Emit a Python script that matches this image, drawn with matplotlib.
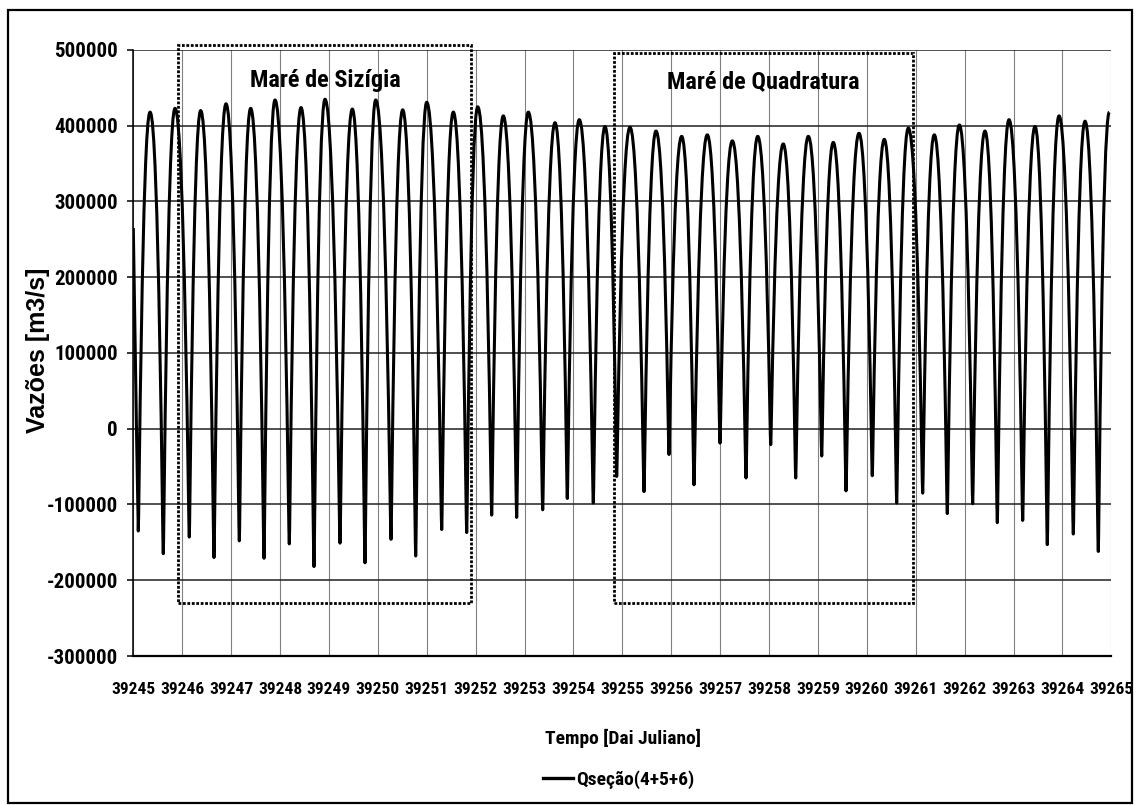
import numpy as np
import matplotlib.pyplot as plt
from matplotlib.path import Path
from matplotlib.patches import PathPatch, Rectangle
from matplotlib.lines import Line2D

plt.rcParams['font.family'] = ['Roboto Condensed', 'DejaVu Sans']
plt.rcParams['font.stretch'] = 'condensed'
plt.rcParams['font.weight'] = 'bold'

# first sample of the record (curve enters on a falling limb)
start_day = 39245.0
start_q = 265000

# low water (ebb extremes)
trough_day = [39245.102, 39245.613, 39246.145, 39246.650, 39247.168, 39247.673, 39248.190,
              39248.695, 39249.227, 39249.738, 39250.270, 39250.775, 39251.307, 39251.818,
              39252.329, 39252.840, 39253.372, 39253.875, 39254.407, 39254.885, 39255.444,
              39255.955, 39256.466, 39256.998, 39257.530, 39258.035, 39258.546, 39259.078,
              39259.575, 39260.112, 39260.611, 39261.143, 39261.646, 39262.165, 39262.669,
              39263.188, 39263.691, 39264.223, 39264.734]
trough_q = [-135000, -165000, -143000, -170000, -148000, -171000, -152000, -182000,
            -151000, -177000, -146000, -168000, -133000, -137000, -114000, -117000,
            -107000, -92000, -98000, -63000, -83000, -34000, -74000, -19000,
            -65000, -21000, -65000, -36000, -82000, -62000, -98000, -85000,
            -112000, -99000, -124000, -121000, -153000, -139000, -162000]

# high water (flood extremes)
peak_day = [39245.343, 39245.853, 39246.378, 39246.896, 39247.400, 39247.898, 39248.430,
            39248.920, 39249.479, 39249.957, 39250.509, 39251.000, 39251.544, 39252.043,
            39252.566, 39253.078, 39253.624, 39254.120, 39254.646, 39255.157, 39255.689,
            39256.214, 39256.738, 39257.250, 39257.769, 39258.292, 39258.804, 39259.315,
            39259.840, 39260.358, 39260.849, 39261.380, 39261.892, 39262.417, 39262.908,
            39263.440, 39263.931, 39264.463, 39264.960]
peak_q = [418000, 423000, 420000, 429000, 423000, 434000, 424000, 435000,
          422000, 434000, 421000, 431000, 418000, 425000, 413000, 418000,
          404000, 408000, 399000, 398000, 393000, 386000, 388000, 380000,
          386000, 376000, 386000, 378000, 390000, 382000, 397000, 388000,
          401000, 393000, 408000, 399000, 413000, 406000, 418000]

box_names = ['Maré de Sizígia', 'Maré de Quadratura']
box_day = [(39245.92, 39251.906), (39254.836, 39260.95)]
box_q = [(-230000, 507000), (-230000, 496000)]
name_pos = [(39248.92, 460000), (39257.88, 458000)]

xticks = list(range(39245, 39266))
yticks = list(range(-300000, 500001, 100000))


def tide_path(t0, q0, tt, qt, tp, qp, a=0.05, b=0.65):
    # smoothed line through the extremes: flat tangents, narrow lows, broad highs
    verts = [(t0, q0)]
    codes = [Path.MOVETO]
    pts = []
    for i in range(len(tt)):
        pts.append((tt[i], qt[i], 'low'))
        pts.append((tp[i], qp[i], 'high'))
    pt, pq, kind = t0, q0, 'start'
    for t, q, k in pts:
        d = t - pt
        if kind == 'start':
            c1 = (pt + d / 3, pq + (q - pq) / 3)
            c2 = (t - a * d, q)
        elif kind == 'high':
            c1 = (pt + b * d, pq)
            c2 = (t - a * d, q)
        else:
            c1 = (pt + a * d, pq)
            c2 = (t - b * d, q)
        verts += [c1, c2, (t, q)]
        codes += [Path.CURVE4] * 3
        pt, pq, kind = t, q, k
    return Path(verts, codes)


fig = plt.figure(figsize=(11.37, 8.05), dpi=100)
ax = fig.add_axes([133.3 / 1137, 149 / 805, 978 / 1137, 606 / 805])

path = tide_path(start_day, start_q, trough_day, trough_q, peak_day, peak_q)
ax.add_patch(PathPatch(path, fill=False, edgecolor='black', lw=2.2, joinstyle='round'))

ax.set_xlim(39245, 39265)
ax.set_ylim(-300000, 500000)
ax.set_xticks(xticks)
ax.set_yticks(yticks)
ax.set_xticklabels([str(x) for x in xticks], fontsize=12.5)
ax.set_yticklabels([str(y) for y in yticks], fontsize=15)

ax.yaxis.grid(True, color='#202020', lw=1.1)
ax.xaxis.grid(True, color='#808080', lw=0.8)
ax.set_axisbelow(True)
ax.tick_params(axis='x', length=0, pad=19)
ax.tick_params(axis='y', length=4, width=1.1, pad=7, colors='black')
for s in ['top', 'right']:
    ax.spines[s].set_visible(False)
ax.spines['left'].set_linewidth(1.1)
ax.spines['bottom'].set_linewidth(1.6)

for (x0, x1), (y0, y1) in zip(box_day, box_q):
    ax.add_patch(Rectangle((x0, y0), x1 - x0, y1 - y0, fill=False, edgecolor='black',
                           lw=2.0, linestyle=(0, (1.0, 0.6)), clip_on=False, zorder=4))
for name, (x, y) in zip(box_names, name_pos):
    ax.text(x, y, name, ha='center', va='center', fontsize=17.5, zorder=5)

fig.text(38 / 1137, 1 - 350 / 805, 'Vazões [m3/s]', rotation=90, ha='center', va='center',
         fontsize=18, family=['Liberation Sans', 'DejaVu Sans'], fontstretch='normal',
         fontweight='bold')
fig.text(623 / 1137, 1 - 738 / 805, 'Tempo [Dai Juliano]', ha='center', va='center', fontsize=14)

handle = Line2D([], [], color='black', lw=2.4)
fig.legend(handles=[handle], labels=['Qseção(4+5+6)'], loc='center',
           bbox_to_anchor=(619 / 1137, 1 - 780 / 805), frameon=False, fontsize=14,
           handlelength=1.5, handletextpad=0.2)

fig.add_artist(Rectangle((8 / 1137, 2 / 805), 1124 / 1137, 793 / 805, fill=False,
                         edgecolor='black', lw=1.6, transform=fig.transFigure))

plt.savefig('out.png', dpi=100)
